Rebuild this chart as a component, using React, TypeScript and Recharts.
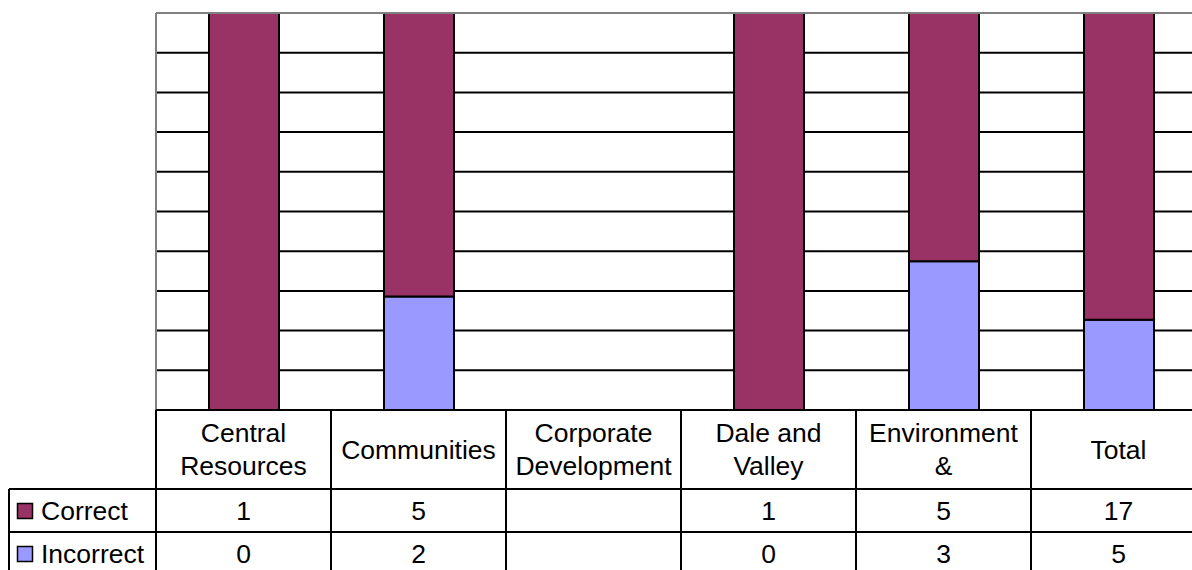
import React from "react";
import { BarChart, Bar, XAxis, YAxis, CartesianGrid, ReferenceLine } from "recharts";

const categories = ["Central Resources", "Communities", "Corporate Development", "Dale and Valley", "Environment &", "Total"];
const correctValues: (number | null)[] = [1, 5, null, 1, 5, 17];
const incorrectValues: (number | null)[] = [0, 2, null, 0, 3, 5];
const seriesNames = ["Correct", "Incorrect"];
const seriesColors = ["#993366", "#9999FF"];
const yTicks = [0, 0.1, 0.2, 0.3, 0.4, 0.5, 0.6, 0.7, 0.8, 0.9, 1];

const data = categories.map((c, i) => ({
  name: c,
  Correct: correctValues[i],
  Incorrect: incorrectValues[i],
}));

const CHART_W = 1210;
const CHART_H = 580;
const M = { top: 13, right: 3, left: 155, bottom: 0 };
const AX_W = 1;
const PLOT_H = 397;
const COL_W = (CHART_W - M.left - M.right - 2 * AX_W) / categories.length;
const HDR_H = 79;
const ROW_H = 43;
const FONT = "'Liberation Sans', Arial, sans-serif";
const FS = 26.5;
const LEG_X = 9;

function wrap(label: string, maxW: number): string[] {
  const words = label.split(" ");
  const lines: string[] = [];
  let cur = "";
  const est = (s: string) => s.length * FS * 0.53;
  for (const w of words) {
    const t = cur ? cur + " " + w : w;
    if (cur && est(t) > maxW) {
      lines.push(cur);
      cur = w;
    } else cur = t;
  }
  if (cur) lines.push(cur);
  return lines;
}

function NoTick() {
  return <g />;
}

function TableTick(props: any) {
  const { x, y, payload } = props;
  const i: number = payload.index;
  const left = x - COL_W / 2;
  const right = x + COL_W / 2;
  const lines = wrap(String(payload.value), COL_W - 12);
  const hc = y + HDR_H / 2;
  const rows = [correctValues[i], incorrectValues[i]];
  const bottom = y + HDR_H + ROW_H * 2;
  return (
    <g>
      <line x1={left} x2={right} y1={y} y2={y} stroke="#000" strokeWidth={2} />
      <line x1={left} x2={right} y1={y + HDR_H} y2={y + HDR_H} stroke="#000" strokeWidth={2} />
      <line x1={left} x2={right} y1={y + HDR_H + ROW_H} y2={y + HDR_H + ROW_H} stroke="#000" strokeWidth={2} />
      <line x1={left} x2={right} y1={bottom} y2={bottom} stroke="#000" strokeWidth={2} />
      <line x1={left} x2={left} y1={y} y2={bottom} stroke="#000" strokeWidth={2} />
      {i === categories.length - 1 && (
        <line x1={right} x2={right} y1={y} y2={bottom} stroke="#000" strokeWidth={2} />
      )}
      {lines.map((ln, k) => (
        <text
          key={k}
          x={x}
          y={hc + (k - (lines.length - 1) / 2) * 33}
          dy="0.35em"
          textAnchor="middle"
          fontFamily={FONT}
          fontSize={FS}
          fill="#000"
        >
          {ln}
        </text>
      ))}
      {rows.map((v, r) => (
        <text
          key={"v" + r}
          x={x}
          y={y + HDR_H + ROW_H * r + ROW_H / 2}
          dy="0.35em"
          textAnchor="middle"
          fontFamily={FONT}
          fontSize={FS}
          fill="#000"
        >
          {v === null ? "" : v}
        </text>
      ))}
      {i === 0 && (
        <g>
          <line x1={LEG_X} x2={left} y1={y + HDR_H} y2={y + HDR_H} stroke="#000" strokeWidth={2} />
          <line x1={LEG_X} x2={left} y1={y + HDR_H + ROW_H} y2={y + HDR_H + ROW_H} stroke="#000" strokeWidth={2} />
          <line x1={LEG_X} x2={left} y1={bottom} y2={bottom} stroke="#000" strokeWidth={2} />
          <line x1={LEG_X} x2={LEG_X} y1={y + HDR_H} y2={bottom} stroke="#000" strokeWidth={2} />
          {seriesNames.map((n, r) => {
            const cy = y + HDR_H + ROW_H * r + ROW_H / 2;
            return (
              <g key={n}>
                <rect x={LEG_X + 8.5} y={cy - 7} width={15} height={15} fill={seriesColors[r]} stroke="#000" strokeWidth={1.5} />
                <text x={LEG_X + 32} y={cy} dy="0.35em" fontFamily={FONT} fontSize={FS} fill="#000">
                  {n}
                </text>
              </g>
            );
          })}
        </g>
      )}
    </g>
  );
}

export default function App() {
  return (
    <div style={{ position: "absolute", left: 0, top: 0, width: 1192, height: 570, overflow: "hidden", background: "#fff" }}>
      <BarChart width={CHART_W} height={CHART_H} data={data} margin={M} stackOffset="expand">
        <CartesianGrid yAxisId="l" vertical={false} horizontal={true} stroke="#000" strokeWidth={2} />
        <XAxis
          dataKey="name"
          height={CHART_H - M.top - PLOT_H}
          interval={0}
          tickLine={false}
          axisLine={false}
          tickSize={0}
          tickMargin={0}
          tick={<TableTick />}
        />
        <YAxis yAxisId="l" type="number" domain={[0, 1]} ticks={yTicks} width={AX_W} tick={<NoTick />} tickLine={false} axisLine={{ stroke: "#808080", strokeWidth: 2 }} />
        <YAxis yAxisId="r" orientation="right" type="number" domain={[0, 1]} ticks={yTicks} width={AX_W} tick={<NoTick />} tickLine={false} axisLine={{ stroke: "#808080", strokeWidth: 2 }} />
        <Bar yAxisId="l" dataKey="Incorrect" stackId="a" fill={seriesColors[1]} stroke="#000" strokeWidth={2} barSize={70} isAnimationActive={false} />
        <Bar yAxisId="l" dataKey="Correct" stackId="a" fill={seriesColors[0]} stroke="#000" strokeWidth={2} barSize={70} isAnimationActive={false} />
        <ReferenceLine yAxisId="l" y={1} stroke="#808080" strokeWidth={2} />
      </BarChart>
    </div>
  );
}
